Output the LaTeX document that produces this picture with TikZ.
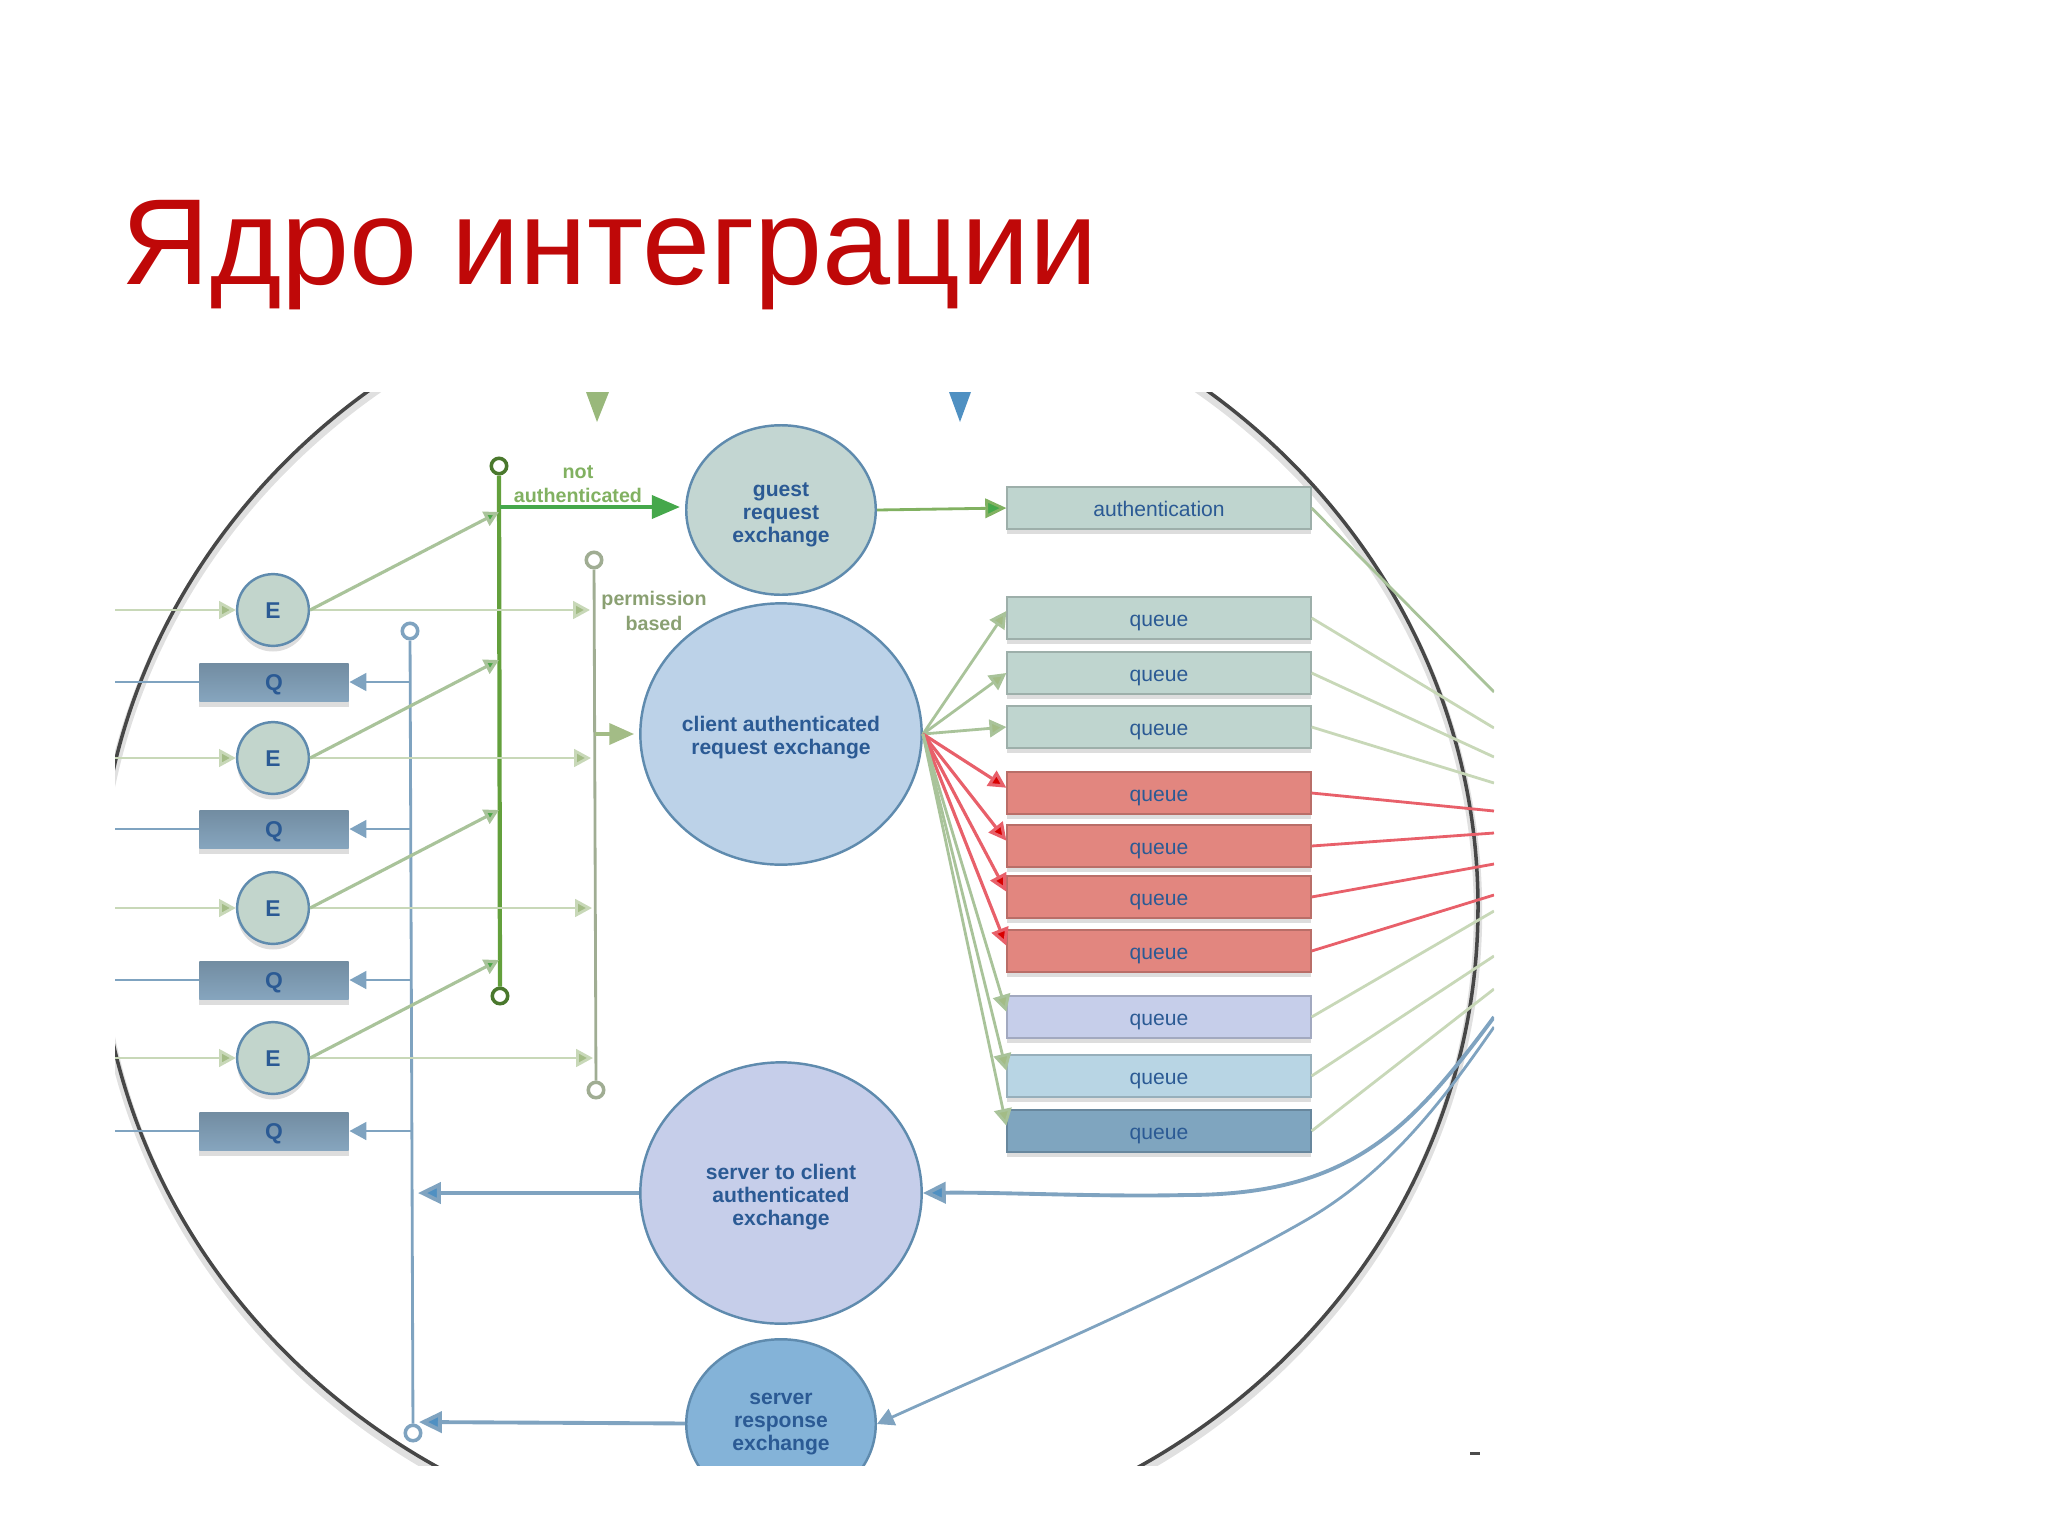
\documentclass[tikz,border=0pt]{standalone}
\usepackage{fontspec}
\setmainfont{Liberation Sans}
\usetikzlibrary{arrows.meta,shapes.geometric,shadows}
\definecolor{titlered}{HTML}{BF0808}
\definecolor{navytext}{HTML}{2B5A94}
\definecolor{linegreen}{HTML}{A9C39A}
\definecolor{palegreen}{HTML}{C8D8B8}
\definecolor{tipgreen}{HTML}{A3BC86}
\definecolor{darkgreen}{HTML}{63A03C}
\definecolor{brightgreen}{HTML}{45A84B}
\definecolor{linkblue}{HTML}{7FA3C0}
\definecolor{linkred}{HTML}{E8606A}
\definecolor{rimblue}{HTML}{5F8BAE}
\definecolor{topblue}{HTML}{4F90C2}
\definecolor{guestfill}{HTML}{C3D6D2}
\definecolor{clientfill}{HTML}{BCD2E8}
\definecolor{serverfill}{HTML}{C6CEEA}
\definecolor{respfill}{HTML}{84B3D8}
\definecolor{exfill}{HTML}{C2D5CC}
\definecolor{qfill}{HTML}{86A5BE}
\definecolor{mintfill}{HTML}{BFD5CF}
\definecolor{redfill}{HTML}{E2867F}
\definecolor{paleblue}{HTML}{B8D5E4}
\definecolor{darkblue}{HTML}{7FA5BF}
\tikzset{
	softshadow/.style={drop shadow={shadow xshift=0pt,shadow yshift=-1.6pt,opacity=0.22,fill=black!60}},
	exnode/.style={circle,draw=rimblue,line width=0.7pt,inner sep=0pt,minimum size=20.4pt,softshadow,
		fill=#1,text=navytext,text height=4.6pt,text depth=0pt,font=\bfseries\fontsize{6.5}{7}\selectfont},
	qnode/.style={rectangle,draw=none,inner sep=0pt,minimum width=42.5pt,minimum height=10.8pt,softshadow,
		top color=#1!85!black,bottom color=#1,text=navytext,text height=4.6pt,text depth=0pt,font=\bfseries\fontsize{6.5}{7}\selectfont},
	qbox/.style={rectangle,draw=#1!82!black,line width=0.6pt,inner sep=0pt,minimum width=86.2pt,minimum height=11.8pt,softshadow,
		fill=#1,text=navytext,text height=5pt,text depth=0pt,font=\fontsize{6}{7}\selectfont},
	bigex/.style={ellipse,draw=rimblue,line width=0.7pt,inner sep=0pt,minimum width=80pt,minimum height=74.3pt,
		fill=#1,text=navytext,align=center,font=\bfseries\fontsize{6}{6.5}\selectfont},
	smallex/.style={bigex=#1,minimum width=53.9pt,minimum height=48.2pt},
	ring/.style={circle,draw=#1,fill=white,line width=1pt,inner sep=0pt,minimum size=4.4pt},
	gatelabel/.style={inner sep=0pt,align=center,font=\bfseries\fontsize{5.6}{7}\selectfont},
	lnk/.style={draw=#1,line width=0.8pt,-{Triangle[length=4.8pt,width=5pt,fill=tipgreen]}},
	plainlnk/.style={draw=#1,line width=0.8pt},
	darktip/.style={draw=linegreen,line width=0.9pt,-{Triangle[length=4.2pt,width=4.4pt,fill=brightgreen!80!darkgreen]}},
	bluelnk/.style={draw=linkblue,line width=0.8pt,-{Triangle[length=4.8pt,width=5pt,fill=linkblue]}},
	bluebig/.style={draw=linkblue,line width=1.1pt,-{Triangle[length=6.5pt,width=6pt,fill=topblue]}},
	redlnk/.style={draw=linkred,line width=0.9pt,-{Triangle[length=5pt,width=5pt,fill=red!85!black]}}
}

\begin{document}
\begin{tikzpicture}[x=0.01cm,y=-0.01cm]
			%%%%% START %%%%%
			\useasboundingbox (0,0) rectangle (2048,1536);
			
			\node[anchor=base west,inner sep=0pt,text=titlered,font=\fontsize{34.8}{40}\selectfont] (title) at (121,284) {Ядро интеграции};
			
			\begin{scope}
			\clip (115,392) rectangle (1494,1465);
			
			%%%%% LENS %%%%%
			\draw[line width=2.4pt,color=black!12] (788,912) ellipse [x radius=690,y radius=650];
			\draw[line width=1pt,color=black!72] (788,907) ellipse [x radius=690,y radius=650];
			\fill[color=tipgreen!85!darkgreen] (586,392) -- (609,392) -- (597,422) -- cycle;
			\fill[color=topblue] (949,392) -- (971,392) -- (960,422) -- cycle;
			\fill[color=black!70] (1470,1452) rectangle (1480,1455);
			
			%%%%% EXCHANGES %%%%%
			\node[smallex=guestfill] (guest) at (781,510) {\rule{0pt}{6.5pt}guest\\request\\exchange};
			\node[bigex=clientfill] (client) at (781,734) {\rule{0pt}{6.5pt}client authenticated\\request exchange};
			\node[bigex=serverfill] (stoc) at (781,1193) {\rule{0pt}{6.5pt}server to client\\authenticated\\exchange};
			\node[smallex=respfill] (resp) at (781,1424) {server\\response\\exchange};
			
			%%%%% BARS %%%%%
			\node[ring=darkgreen!75!black] (gtop) at (499,466) {};
			\node[ring=darkgreen!75!black] (gbot) at (500,996) {};
			\node[ring=palegreen!80!black] (ptop) at (594,560) {};
			\node[ring=palegreen!80!black] (pbot) at (596,1090) {};
			\node[ring=linkblue] (btop) at (410,631) {};
			\node[ring=linkblue] (bbot) at (413,1433) {};
			\draw[line width=1.2pt,color=darkgreen] (gtop) -- (gbot);
			\draw[line width=0.8pt,color=palegreen!80!black] (ptop) -- (pbot);
			\draw[line width=0.8pt,color=linkblue] (btop) -- (bbot);
			
			%%%%% LEFT SIDE %%%%%
			\node[exnode=exfill] (e1) at (273,610) {E};
			\node[exnode=exfill] (e2) at (273,758) {E};
			\node[exnode=exfill] (e3) at (273,908) {E};
			\node[exnode=exfill] (e4) at (273,1058) {E};
			\node[qnode=qfill] (q1) at (274,682) {Q};
			\node[qnode=qfill] (q2) at (274,829) {Q};
			\node[qnode=qfill] (q3) at (274,980) {Q};
			\node[qnode=qfill] (q4) at (274,1131) {Q};
			
			\coordinate (in1) at (115,610);
			\coordinate (in2) at (115,758);
			\coordinate (in3) at (115,908);
			\coordinate (in4) at (115,1058);
			\draw[lnk=palegreen] (in1) -- (e1);
			\draw[lnk=palegreen] (in2) -- (e2);
			\draw[lnk=palegreen] (in3) -- (e3);
			\draw[lnk=palegreen] (in4) -- (e4);
			
			\coordinate (p1) at (590,610);
			\coordinate (p2) at (591,758);
			\coordinate (p3) at (592,908);
			\coordinate (p4) at (593,1058);
			\draw[lnk=palegreen] (e1) -- (p1);
			\draw[lnk=palegreen] (e2) -- (p2);
			\draw[lnk=palegreen] (e3) -- (p3);
			\draw[lnk=palegreen] (e4) -- (p4);
			
			\coordinate (g1) at (499,512);
			\coordinate (g2) at (499,660);
			\coordinate (g3) at (499,810);
			\coordinate (g4) at (499,960);
			\draw[darktip] (e1.east) -- (g1);
			\draw[darktip] (e2.east) -- (g2);
			\draw[darktip] (e3.east) -- (g3);
			\draw[darktip] (e4.east) -- (g4);
			
			\coordinate (out1) at (115,682);
			\coordinate (out2) at (115,829);
			\coordinate (out3) at (115,980);
			\coordinate (out4) at (115,1131);
			\draw[plainlnk=linkblue] (q1) -- (out1);
			\draw[plainlnk=linkblue] (q2) -- (out2);
			\draw[plainlnk=linkblue] (q3) -- (out3);
			\draw[plainlnk=linkblue] (q4) -- (out4);
			
			\coordinate (b1) at (410,682);
			\coordinate (b2) at (411,829);
			\coordinate (b3) at (411,980);
			\coordinate (b4) at (412,1131);
			\draw[bluelnk] (b1) -- (q1);
			\draw[bluelnk] (b2) -- (q2);
			\draw[bluelnk] (b3) -- (q3);
			\draw[bluelnk] (b4) -- (q4);
			
			\coordinate (g0) at (500,507);
			\coordinate (gw) at (680,507);
			\coordinate (p0) at (595,734);
			\coordinate (pw) at (634,734);
			\coordinate (b5) at (418,1193);
			\coordinate (b6) at (419,1422);
			\draw[draw=brightgreen,line width=1.2pt,-{Triangle[length=8pt,width=6.5pt,fill=brightgreen]}] (g0) -- (gw);
			\draw[draw=tipgreen,line width=0.9pt,-{Triangle[length=7pt,width=6pt,fill=tipgreen]}] (p0) -- (pw);
			\draw[bluebig] (stoc) -- (b5);
			\draw[bluebig] (resp) -- (b6);
			
			\node[gatelabel,text=darkgreen!70!palegreen] (notauth) at (578,484) {not\\authenticated};
			\node[gatelabel,text=tipgreen!85!black] (permis) at (654,611) {permission\\based};
			
			%%%%% QUEUES %%%%%
			\node[qbox=mintfill] (auth) at (1159,508) {authentication};
			\node[qbox=mintfill] (qa) at (1159,618) {queue};
			\node[qbox=mintfill] (qb) at (1159,673) {queue};
			\node[qbox=mintfill] (qc) at (1159,727) {queue};
			\node[qbox=redfill] (qd) at (1159,793) {queue};
			\node[qbox=redfill] (qe) at (1159,846) {queue};
			\node[qbox=redfill] (qf) at (1159,897) {queue};
			\node[qbox=redfill] (qg) at (1159,951) {queue};
			\node[qbox=serverfill] (qh) at (1159,1017) {queue};
			\node[qbox=paleblue] (qi) at (1159,1076) {queue};
			\node[qbox=darkblue] (qj) at (1159,1131) {queue};
			
			\draw[draw=darkgreen!70!palegreen,line width=0.8pt,-{Triangle[length=6pt,width=5.5pt,fill=brightgreen]}] (guest.east) -- (auth.west);
			\draw[lnk=linegreen] (client.east) -- ([yshift=2pt]qa.west);
			\draw[lnk=linegreen] (client.east) -- (qb.west);
			\draw[lnk=linegreen] (client.east) -- (qc.west);
			\draw[redlnk] (client.east) -- ([yshift=1.5pt]qd.west);
			\draw[redlnk] (client.east) -- ([yshift=1.5pt]qe.west);
			\draw[redlnk] (client.east) -- ([yshift=1.5pt]qf.west);
			\draw[redlnk] (client.east) -- ([yshift=1.5pt]qg.west);
			\draw[lnk=linegreen] (client.east) -- ([yshift=1.5pt]qh.west);
			\draw[lnk=linegreen] (client.east) -- ([yshift=1.5pt]qi.west);
			\draw[lnk=linegreen] (client.east) -- ([yshift=1.5pt]qj.west);
			
			\coordinate (r0) at (1494,692);
			\coordinate (r1) at (1494,728);
			\coordinate (r2) at (1494,757);
			\coordinate (r3) at (1494,783);
			\coordinate (r4) at (1494,811);
			\coordinate (r5) at (1494,833);
			\coordinate (r6) at (1494,864);
			\coordinate (r7) at (1494,895);
			\coordinate (r8) at (1494,911);
			\coordinate (r9) at (1494,956);
			\coordinate (r10) at (1494,989);
			\draw[plainlnk=linegreen] (auth.east) -- (r0);
			\draw[plainlnk=palegreen] (qa.east) -- (r1);
			\draw[plainlnk=palegreen] (qb.east) -- (r2);
			\draw[plainlnk=palegreen] (qc.east) -- (r3);
			\draw[plainlnk=linkred] (qd.east) -- (r4);
			\draw[plainlnk=linkred] (qe.east) -- (r5);
			\draw[plainlnk=linkred] (qf.east) -- (r6);
			\draw[plainlnk=linkred] (qg.east) -- (r7);
			\draw[plainlnk=palegreen] (qh.east) -- (r8);
			\draw[plainlnk=palegreen] (qi.east) -- (r9);
			\draw[plainlnk=palegreen] (qj.east) -- (r10);
			
			\coordinate (r11) at (1494,1017);
			\coordinate (r12) at (1494,1027);
			\draw[bluebig] (r11) .. controls (1410,1130) and (1350,1195) .. (1186,1195) .. controls (1100,1197) and (1000,1192) .. (stoc.east);
			\draw[bluelnk] (r12) .. controls (1450,1090) and (1395,1168) .. (1308,1219) .. controls (1180,1293) and (1000,1368) .. (resp.east);
			\end{scope}
			%%%%% END %%%%%
		\end{tikzpicture}
\end{document}
